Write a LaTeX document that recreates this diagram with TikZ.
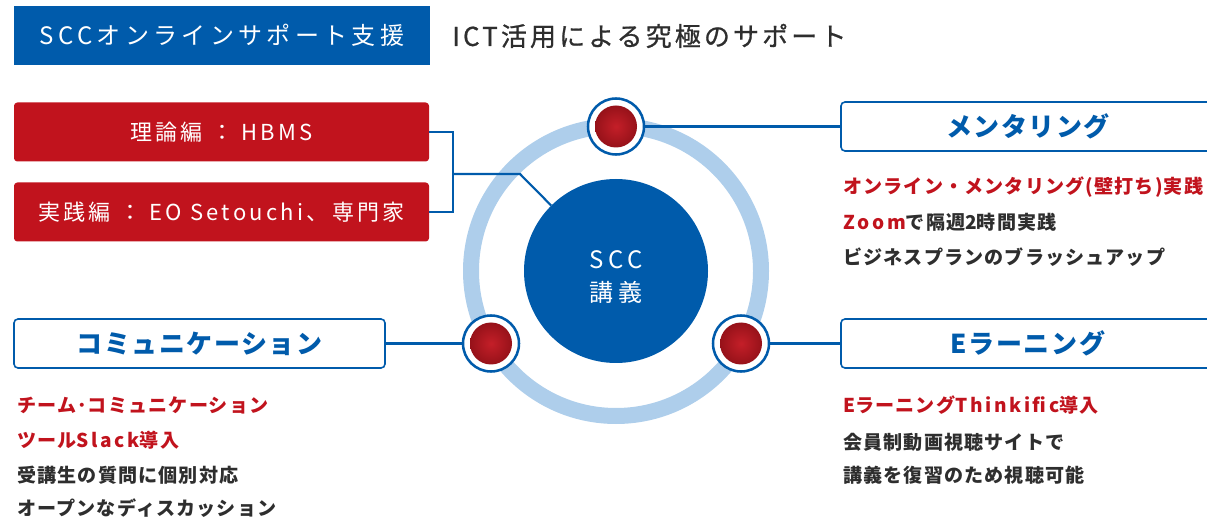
\documentclass[tikz,border=0pt]{standalone}
\usepackage{fontspec}
\newfontfamily\jp{Noto Sans CJK JP}
\newfontfamily\jpwide[LetterSpace=18]{Noto Sans CJK JP}
\newfontfamily\jpred[LetterSpace=15]{Noto Sans CJK JP}
\newfontfamily\jpmotto[LetterSpace=12, FakeBold=0.8]{Noto Sans CJK JP}
\newfontfamily\jpmid[LetterSpace=6]{Noto Sans CJK JP}
\newfontfamily\jplat[LetterSpace=14]{Noto Sans CJK JP}
\newcommand\latin[1]{{\jplat\bfseries #1}}
\definecolor{sccblue}{HTML}{005BAB}
\definecolor{sccred}{HTML}{C1131D}
\definecolor{ringblue}{HTML}{AECEEB}
\definecolor{textdark}{HTML}{2E2E2E}
\tikzset{
  titlebox/.style={fill=sccblue, text=white, minimum width=312pt, minimum height=44.25pt, inner sep=0pt,
    font=\jpwide\fontsize{18}{20}\selectfont},
  redbox/.style={fill=sccred, text=white, rounded corners=2.5pt, minimum width=311.25pt, minimum height=44.25pt,
    inner sep=0pt, font=\jpred\fontsize{16.5}{18}\selectfont},
  headbox/.style={draw=sccblue, line width=1.2pt, fill=white, text=sccblue, rounded corners=3pt,
    minimum height=36.75pt, inner sep=0pt, font=\jpmid\bfseries\fontsize{19.5}{20}\selectfont},
  link/.style={draw=sccblue, line width=1.6pt},
  ringline/.style={draw=ringblue, line width=12pt},
  hub/.style={circle, draw=sccblue, line width=1.9pt, fill=white, minimum size=42pt, inner sep=0pt,
    path picture={\shade[inner color=sccred!95!white, outer color=sccred!70!black]
      (path picture bounding box.center) circle[radius=15.75pt];}},
  item/.style={anchor=base west, inner sep=0pt, text=textdark, font=\jpmid\bfseries\fontsize{14.3}{16}\selectfont},
}
\begin{document}
\begin{tikzpicture}[x=0.75pt, y=-0.75pt]
\useasboundingbox (0,0) rectangle (1207,520);
\node[titlebox] (title) at (222,35.5) {SCCオンラインサポート支援};
\node[anchor=west, inner sep=0pt, text=textdark, font=\jpmotto\fontsize{19.5}{20}\selectfont] (motto) at (452,36) {ICT活用による究極のサポート};
\node[redbox] (theory) at (221.5,132) {理論編 ： HBMS};
\node[redbox] (practice) at (221.5,212) {実践編 ： EO Setouchi、専門家};
\draw[ringline] (616,271) circle[radius=145];
\node[circle, fill=sccblue, minimum size=138pt, inner sep=0pt] (scc) at (616,271) {};
\node[text=white, inner sep=0pt, align=center, font=\jpwide\fontsize{18}{24.75}\selectfont] (scctext) at (616,277) {SCC\\講義};
\coordinate (brk) at (453,174);
\coordinate (bend) at (520,174);
\draw[link] (theory.east) -| (brk);
\draw[link] (practice.east) -| (brk);
\draw[link] (brk) -- (bend) -- (scc);
\node[headbox, minimum width=280.5pt] (mentorbox) at (1028,126.5) {メンタリング};
\node[headbox, minimum width=278.25pt] (commbox) at (199.5,343.5) {コミュニケーション};
\node[headbox, minimum width=280.5pt] (elearnbox) at (1028,343.5) {Eラーニング};
\node[hub] (mentor) at (616,126.5) {};
\node[hub] (comm) at (491,343.5) {};
\node[hub] (elearn) at (741,343.5) {};
\draw[link] (mentor) -- (mentorbox);
\draw[link] (comm) -- (commbox);
\draw[link] (elearn) -- (elearnbox);
\node[item, text=sccred] (m1) at (843,194) {オンライン・メンタリング(壁打ち)実践};
\node[item] (m2) at (843,230) {{\color{sccred}\latin{Zoom}}で隔週\latin{2}時間実践};
\node[item] (m3) at (843,265) {ビジネスプランのブラッシュアップ};
\node[item, text=sccred] (c1) at (17,412) {チーム･コミュニケーション};
\node[item, text=sccred] (c2) at (17,447) {ツール\latin{Slack}導入};
\node[item] (c3) at (17,482) {受講生の質問に個別対応};
\node[item] (c4) at (17,515) {オープンなディスカッション};
\node[item, text=sccred] (e1) at (843,412) {\latin{E}ラーニング\latin{Thinkific}導入};
\node[item] (e2) at (843,449) {会員制動画視聴サイトで};
\node[item] (e3) at (843,482) {講義を復習のため視聴可能};
\end{tikzpicture}
\end{document}
